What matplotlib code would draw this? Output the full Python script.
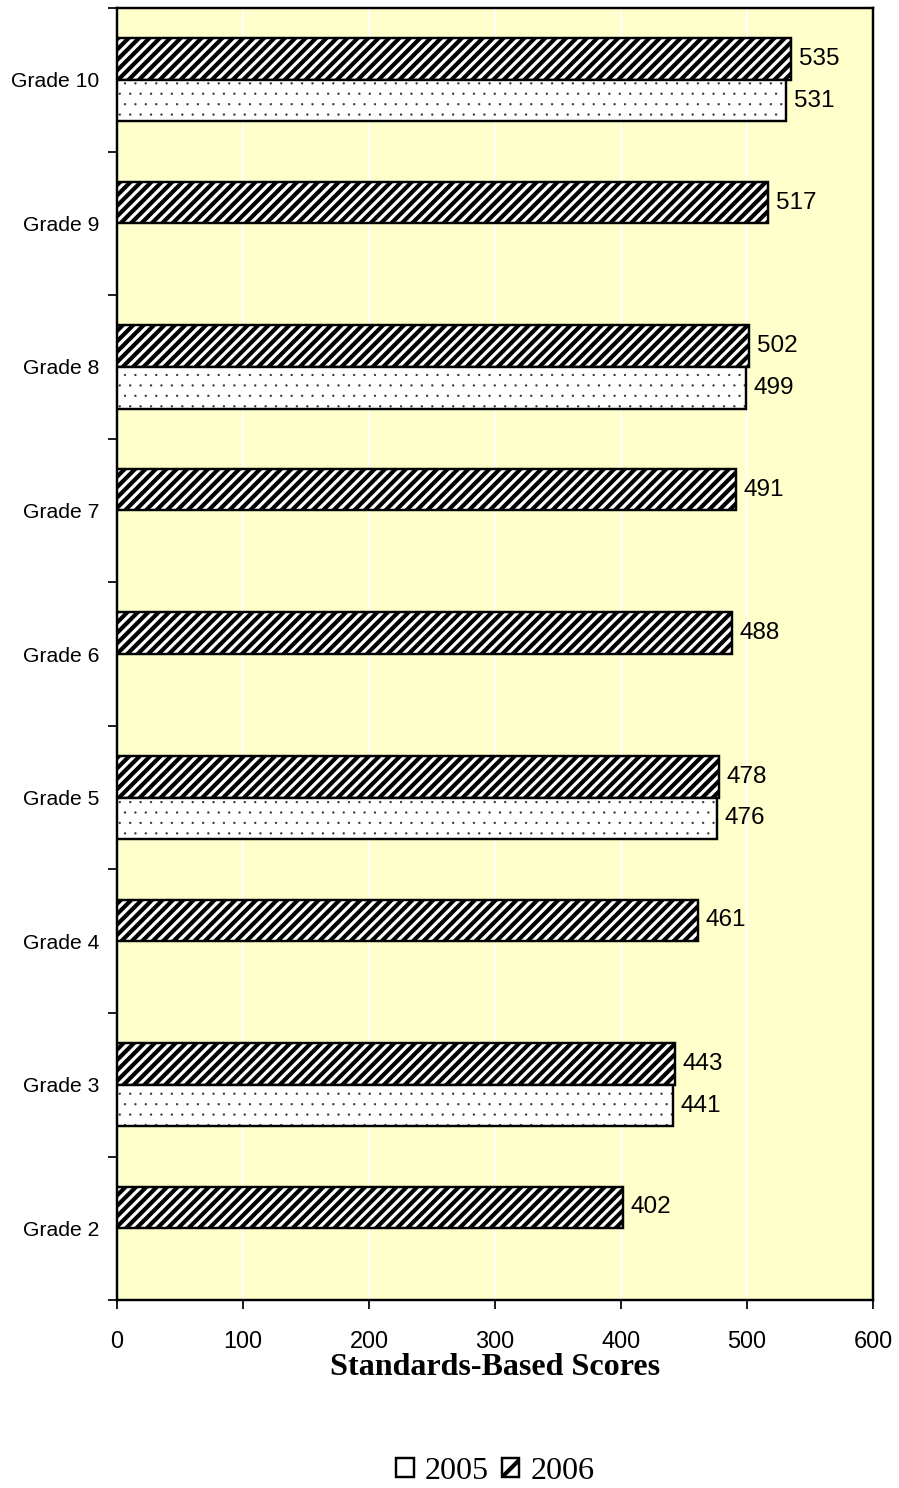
import numpy as np
import matplotlib
matplotlib.use("Agg")
import matplotlib.pyplot as plt
from matplotlib.patches import Patch

grades = ["Grade 2", "Grade 3", "Grade 4", "Grade 5", "Grade 6",
          "Grade 7", "Grade 8", "Grade 9", "Grade 10"]
scores_2006 = [402, 443, 461, 478, 488, 491, 502, 517, 535]
scores_2005 = [None, 441, None, 476, None, None, 499, None, 531]
years = ["2005", "2006"]
xticks = [0, 100, 200, 300, 400, 500, 600]

plt.rcParams['font.family'] = ['Liberation Sans', 'DejaVu Sans']
plt.rcParams['hatch.linewidth'] = 2.4

fig = plt.figure(figsize=(7.192, 11.904), dpi=125)
ax = fig.add_axes([0.130, 0.1263, 0.841, 0.8683])
ax.set_facecolor("#FFFFCC")

y = np.arange(len(grades))
h = 0.29

# 2006 bars, striped
ax.barh(y + h / 2, scores_2006, height=h, color="white",
        edgecolor="black", linewidth=1.4, hatch="////", zorder=3)

# 2005 bars, small dots underneath a black outline
y5 = [yy - h / 2 for yy, v in zip(y, scores_2005) if v is not None]
v5 = [v for v in scores_2005 if v is not None]
ax.barh(y5, v5, height=h, color="white", edgecolor="#303030",
        linewidth=0, hatch="..", hatch_linewidth=0.1, zorder=3)
ax.barh(y5, v5, height=h, fill=False, edgecolor="black",
        linewidth=1.4, zorder=4)

# value labels
for yy, v in zip(y, scores_2006):
    ax.text(v + 6, yy + h / 2, str(v), va="center", ha="left", fontsize=14)
for yy, v in zip(y5, v5):
    ax.text(v + 6, yy, str(v), va="center", ha="left", fontsize=14)

ax.set_xlim(0, 600)
ax.set_ylim(-0.5, len(grades) - 0.5)
ax.set_xticks(xticks)
ax.tick_params(axis="x", labelsize=13.5, length=5, width=1, pad=12, direction="out")
ax.set_yticks(y)
ax.set_yticklabels(grades)
ax.tick_params(axis="y", which="major", length=0, labelsize=12.2, pad=10)
ax.set_yticks(np.arange(-0.5, len(grades)), minor=True)
ax.tick_params(axis="y", which="minor", length=5, width=1, direction="out")

ax.xaxis.grid(True, color="white", linewidth=1.0)
ax.set_axisbelow(True)
for s in ax.spines.values():
    s.set_linewidth(1.4)
    s.set_color("black")

fig.text(0.551, 0.081, "Standards-Based Scores", ha="center", va="center",
         fontsize=18.5, fontweight="bold", family="Liberation Serif")

handles = [Patch(facecolor="white", edgecolor="black", linewidth=1.4),
           Patch(facecolor="white", edgecolor="black", linewidth=1.4, hatch="//")]
fig.legend(handles, years, loc="center", bbox_to_anchor=(0.551, 0.011),
           ncol=2, frameon=False, prop={"family": "Liberation Serif", "size": 18.5},
           handlelength=0.55, handleheight=0.55, handletextpad=0.35, columnspacing=0.4)

fig.savefig("out.png", dpi=125)
